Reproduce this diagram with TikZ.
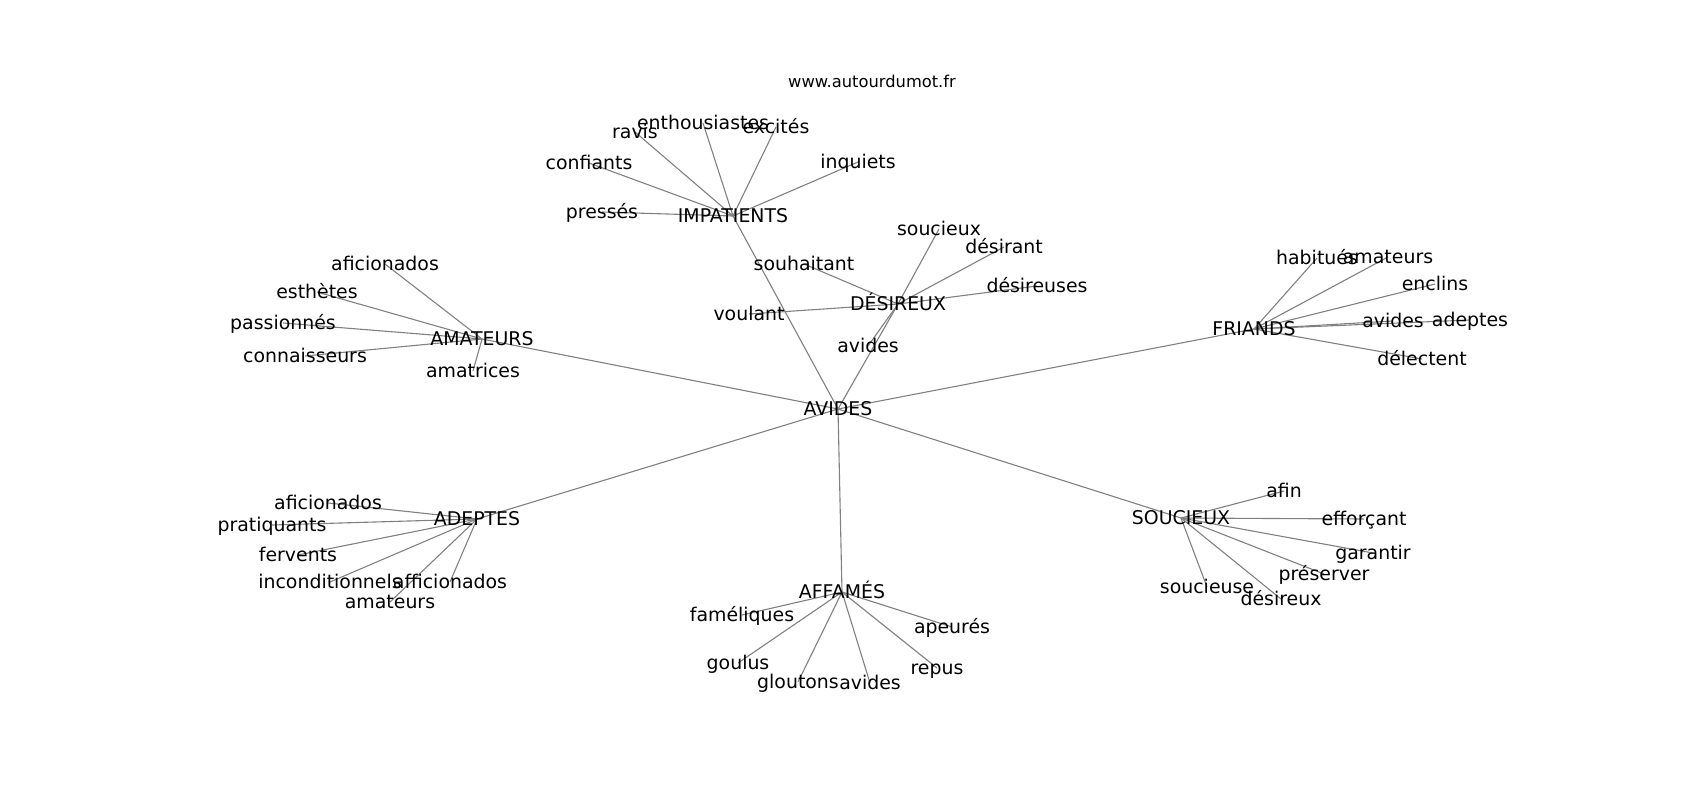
\documentclass[tikz,border=0pt]{standalone}
\usepackage{fontspec}
\setmainfont{DejaVu Sans}
\usetikzlibrary{backgrounds}
\begin{document}
\begin{tikzpicture}[x=1pt,y=-1pt,
  lbl/.style={font=\fontsize{18.9}{22}\selectfont, text height=17.5pt, text depth=3.9pt, inner sep=0pt, anchor=center},
  ttl/.style={font=\fontsize{16.3}{19}\selectfont, text height=14pt, text depth=3.4pt, inner sep=0pt, anchor=center},
  edge/.style={draw=gray, line width=1.1pt}]
\useasboundingbox (0,0) rectangle (1700,800);
\node[ttl] (title) at (872,82) {www.autourdumot.fr};
% hubs
\node[lbl] (av)  at (838,409) {AVIDES};
\node[lbl] (imp) at (733,216) {IMPATIENTS};
\node[lbl] (des) at (898,304) {DÉSIREUX};
\node[lbl] (ama) at (482,339) {AMATEURS};
\node[lbl] (fri) at (1254,329) {FRIANDS};
\node[lbl] (ade) at (477,519) {ADEPTES};
\node[lbl] (aff) at (842,592) {AFFAMÉS};
\node[lbl] (sou) at (1181,518) {SOUCIEUX};
% impatients
\node[lbl] (i1) at (635,132) {ravis};
\node[lbl] (i2) at (703,123) {enthousiastes};
\node[lbl] (i3) at (776,127) {excités};
\node[lbl] (i4) at (858,162) {inquiets};
\node[lbl] (i5) at (589,163) {confiants};
\node[lbl] (i6) at (602,212) {pressés};
% desireux
\node[lbl] (d1) at (939,229) {soucieux};
\node[lbl] (d2) at (1004,247) {désirant};
\node[lbl] (d3) at (1037,286) {désireuses};
\node[lbl] (d4) at (804,264) {souhaitant};
\node[lbl] (d5) at (749,314) {voulant};
\node[lbl] (d6) at (868,346) {avides};
% amateurs
\node[lbl] (a1) at (385,264) {aficionados};
\node[lbl] (a2) at (317,292) {esthètes};
\node[lbl] (a3) at (283,323) {passionnés};
\node[lbl] (a4) at (305,356) {connaisseurs};
\node[lbl] (a5) at (473,371) {amatrices};
% friands
\node[lbl] (f1) at (1317,258) {habitués};
\node[lbl] (f2) at (1388,257) {amateurs};
\node[lbl] (f3) at (1435,284) {enclins};
\node[lbl] (f4) at (1393,321) {avides};
\node[lbl] (f5) at (1470,320) {adeptes};
\node[lbl] (f6) at (1422,359) {délectent};
% adeptes
\node[lbl] (e1) at (328,503) {aficionados};
\node[lbl] (e2) at (272,525) {pratiquants};
\node[lbl] (e3) at (298,555) {fervents};
\node[lbl] (e4) at (330,582) {inconditionnels};
\node[lbl] (e5) at (450,582) {afficionados};
\node[lbl] (e6) at (390,602) {amateurs};
% affames
\node[lbl] (h1) at (742,615) {faméliques};
\node[lbl] (h2) at (952,627) {apeurés};
\node[lbl] (h3) at (738,663) {goulus};
\node[lbl] (h4) at (798,682) {gloutons};
\node[lbl] (h5) at (870,683) {avides};
\node[lbl] (h6) at (937,668) {repus};
% soucieux
\node[lbl] (s1) at (1284,491) {afin};
\node[lbl] (s2) at (1364,519) {efforçant};
\node[lbl] (s3) at (1373,553) {garantir};
\node[lbl] (s4) at (1324,574) {préserver};
\node[lbl] (s5) at (1207,587) {soucieuse};
\node[lbl] (s6) at (1281,599) {désireux};
\begin{scope}[on background layer]
\foreach \h in {imp,des,ama,fri,ade,aff,sou} \draw[edge] (av.center) -- (\h.center);
\foreach \l in {i1,i2,i3,i4,i5,i6} \draw[edge] (imp.center) -- (\l.center);
\foreach \l in {d1,d2,d3,d4,d5,d6} \draw[edge] (des.center) -- (\l.center);
\foreach \l in {a1,a2,a3,a4,a5} \draw[edge] (ama.center) -- (\l.center);
\foreach \l in {f1,f2,f3,f4,f5,f6} \draw[edge] (fri.center) -- (\l.center);
\foreach \l in {e1,e2,e3,e4,e5,e6} \draw[edge] (ade.center) -- (\l.center);
\foreach \l in {h1,h2,h3,h4,h5,h6} \draw[edge] (aff.center) -- (\l.center);
\foreach \l in {s1,s2,s3,s4,s5,s6} \draw[edge] (sou.center) -- (\l.center);
\end{scope}
\end{tikzpicture}
\end{document}
